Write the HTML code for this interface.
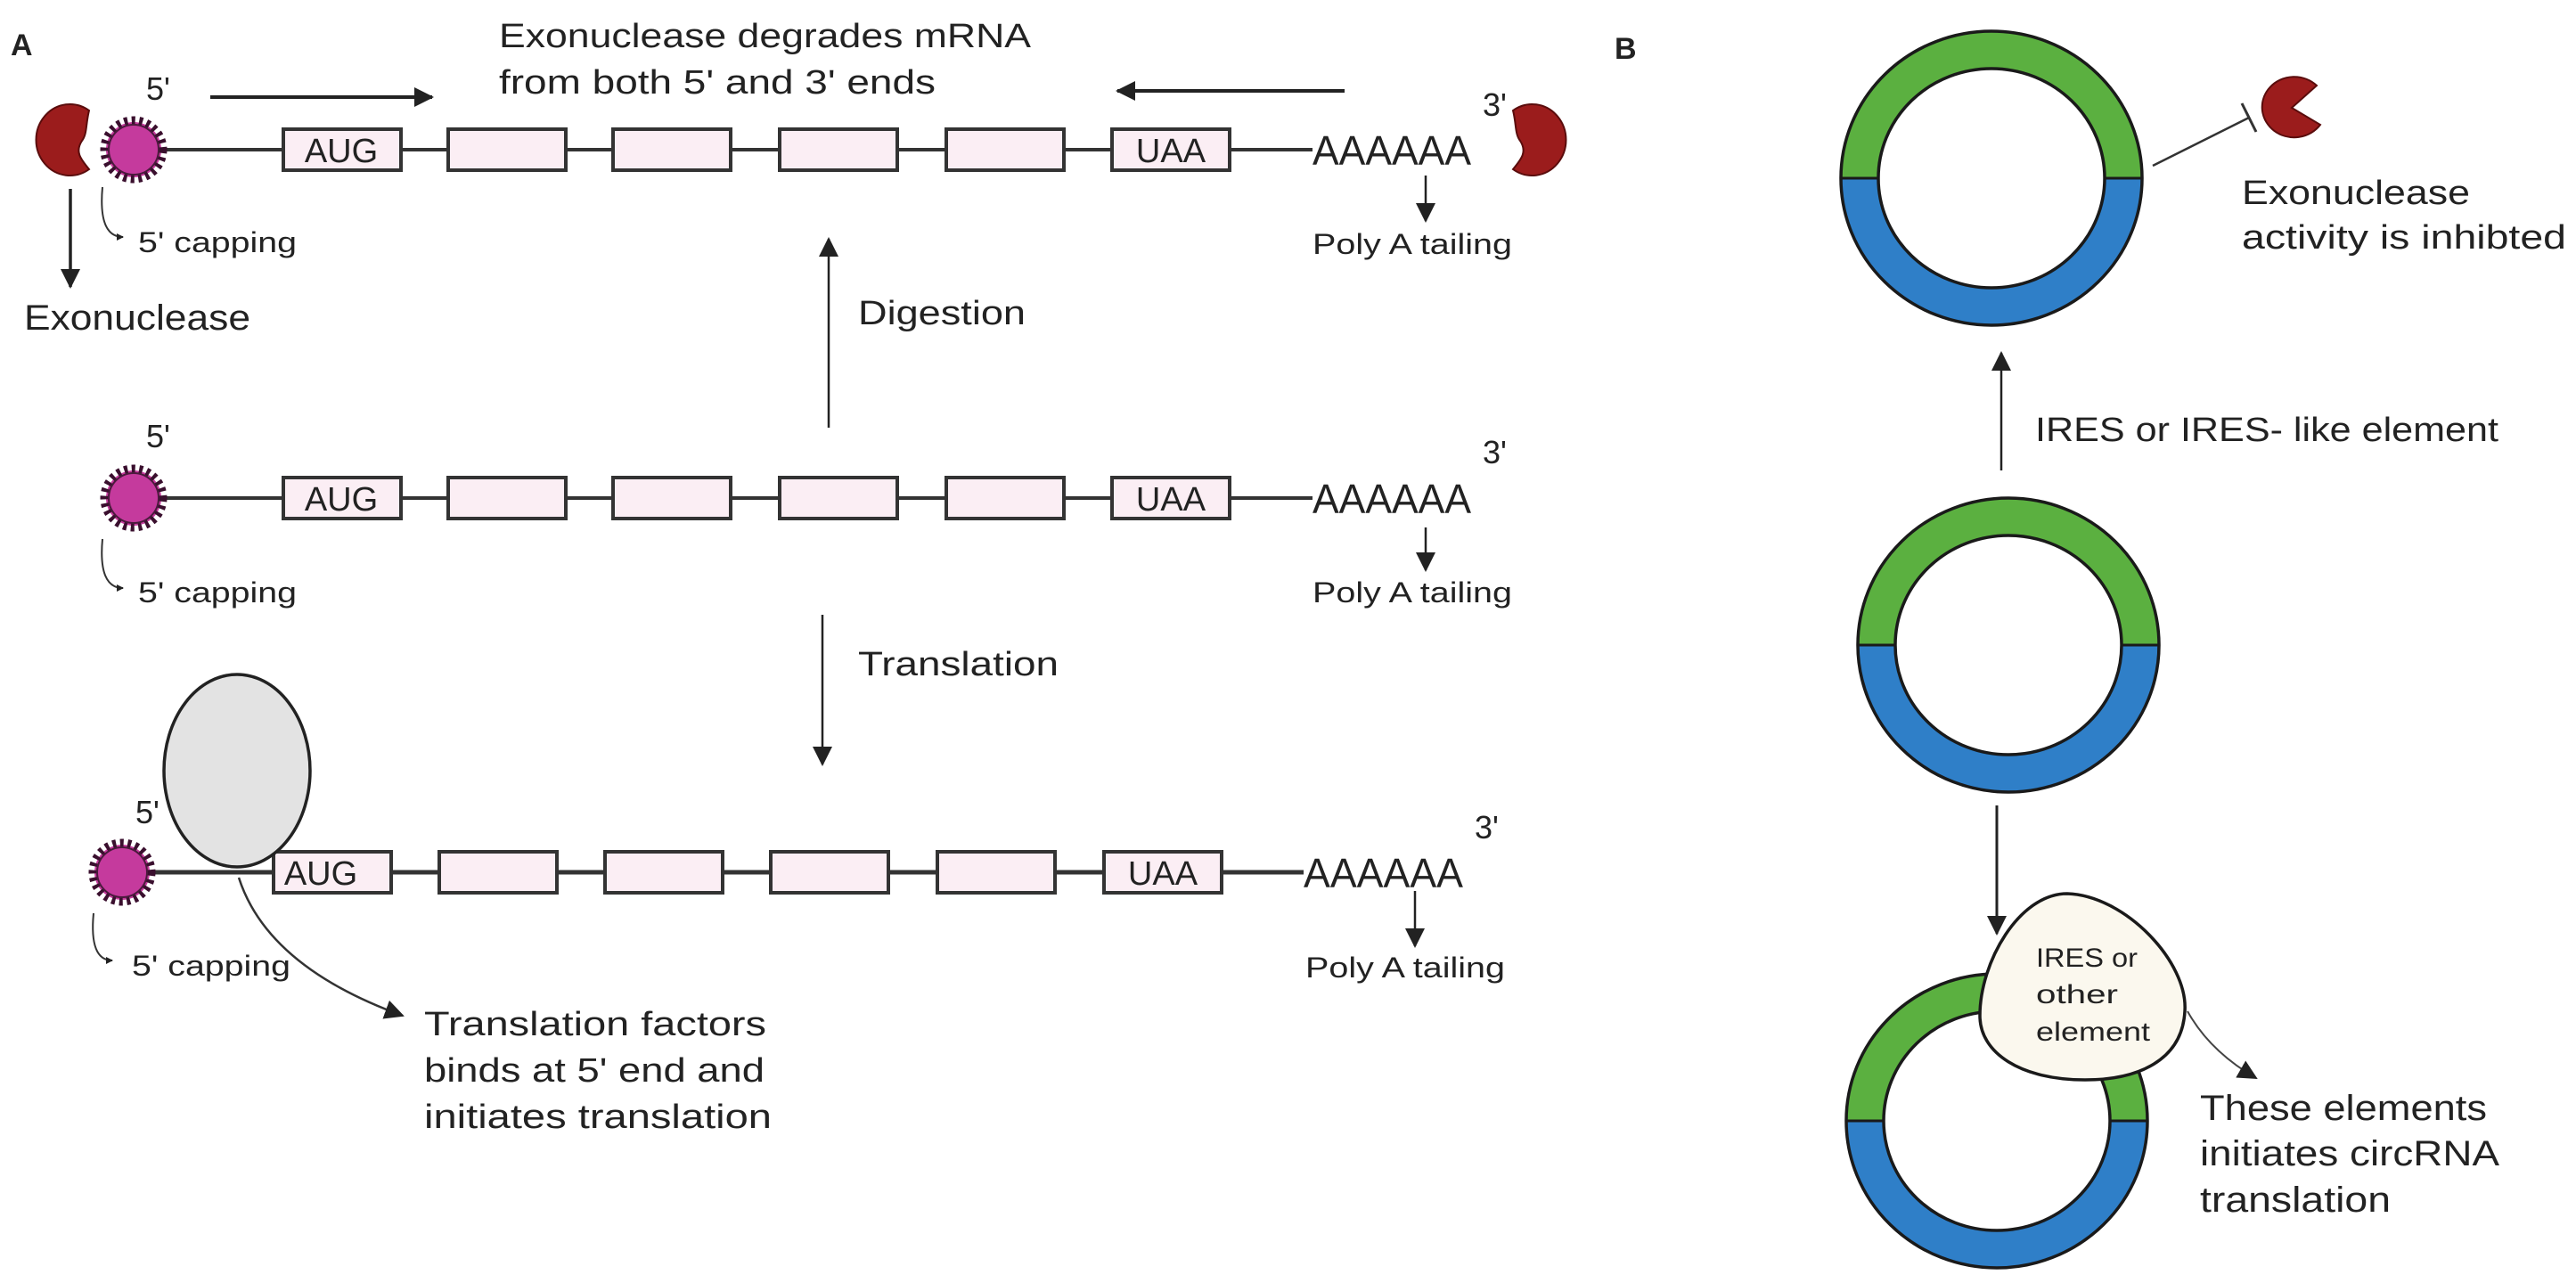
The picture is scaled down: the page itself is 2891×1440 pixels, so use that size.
<!DOCTYPE html>
<html><head><meta charset="utf-8"><style>html,body{margin:0;padding:0;background:#fff}svg{display:block}</style></head>
<body>
<svg width="2891" height="1440" viewBox="0 0 2891 1440" xmlns="http://www.w3.org/2000/svg" font-family="Liberation Sans, Arial, sans-serif" fill="#222">
<defs>
<marker id="ah" markerWidth="8" markerHeight="8" refX="7" refY="4" orient="auto" markerUnits="userSpaceOnUse" viewBox="0 0 8 8"><path d="M0,0 L8,4 L0,8 z" fill="#222"/></marker>
<marker id="ahb" markerWidth="22" markerHeight="22" refX="20" refY="11" orient="auto" markerUnits="userSpaceOnUse" viewBox="0 0 22 22"><path d="M0,0 L22,11 L0,22 z" fill="#222"/></marker>
<g id="box"><rect x="0" y="-23" width="132" height="46" fill="#fbeef4" stroke="#333" stroke-width="4"/></g>
<g id="star"><circle r="31" fill="#c53a9d"/><circle r="33" fill="none" stroke="#3a0f2e" stroke-width="9" stroke-dasharray="4 4.5"/><circle r="28" fill="none" stroke="#4a1a3c" stroke-width="2"/></g>
</defs>

<!-- Labels -->
<text x="12" y="62" font-size="34" font-weight="bold">A</text>
<text x="1812" y="66" font-size="34" font-weight="bold">B</text>

<!-- ===== Row 1 ===== -->
<text x="560" y="53" font-size="38" textLength="597" lengthAdjust="spacingAndGlyphs">Exonuclease degrades mRNA</text>
<text x="560" y="105" font-size="38" textLength="490" lengthAdjust="spacingAndGlyphs">from both 5' and 3' ends</text>
<line x1="236" y1="109" x2="485" y2="109" stroke="#222" stroke-width="4" marker-end="url(#ahb)"/>
<line x1="1509" y1="102" x2="1254" y2="102" stroke="#222" stroke-width="4" marker-end="url(#ahb)"/>
<text x="164" y="112" font-size="36">5'</text>
<text x="1664" y="130" font-size="36">3'</text>

<line x1="170" y1="168" x2="1473" y2="168" stroke="#333" stroke-width="4"/>
<use href="#box" x="318" y="168"/><use href="#box" x="503" y="168"/><use href="#box" x="688" y="168"/><use href="#box" x="875" y="168"/><use href="#box" x="1062" y="168"/><use href="#box" x="1248" y="168"/>
<text x="383" y="182" font-size="38" text-anchor="middle">AUG</text>
<text x="1314" y="182" font-size="38" text-anchor="middle">UAA</text>
<text x="1473" y="185" font-size="46" textLength="178" lengthAdjust="spacingAndGlyphs">AAAAAA</text>
<use href="#star" x="150" y="168"/>
<!-- exonucleases -->
<path d="M100,124 A38,40 0 1,0 100,190 C90,178 84,170 92,158 C98,150 96,140 100,124 z" fill="#9b1c1c" stroke="#5a0c0c" stroke-width="2"/>
<path d="M1698,124 A38,40 0 1,1 1698,190 C1708,178 1714,170 1706,158 C1700,150 1702,140 1698,124 z" fill="#9b1c1c" stroke="#5a0c0c" stroke-width="2"/>

<path d="M115,210 Q110,266 138,266" fill="none" stroke="#333" stroke-width="2" marker-end="url(#ah)"/>
<text x="155" y="283" font-size="32" textLength="178" lengthAdjust="spacingAndGlyphs">5' capping</text>
<line x1="79" y1="212" x2="79" y2="322" stroke="#222" stroke-width="3.5" marker-end="url(#ahb)"/>
<text x="27" y="370" font-size="40" textLength="254" lengthAdjust="spacingAndGlyphs">Exonuclease</text>
<line x1="1600" y1="197" x2="1600" y2="248" stroke="#222" stroke-width="2.5" marker-end="url(#ahb)"/>
<text x="1473" y="285" font-size="32" textLength="224" lengthAdjust="spacingAndGlyphs">Poly A tailing</text>

<line x1="930" y1="480" x2="930" y2="268" stroke="#222" stroke-width="2.5" marker-end="url(#ahb)"/>
<text x="963" y="364" font-size="38" textLength="188" lengthAdjust="spacingAndGlyphs">Digestion</text>

<!-- ===== Row 2 ===== -->
<text x="164" y="502" font-size="36">5'</text>
<text x="1664" y="520" font-size="36">3'</text>
<line x1="170" y1="559" x2="1473" y2="559" stroke="#333" stroke-width="4"/>
<use href="#box" x="318" y="559"/><use href="#box" x="503" y="559"/><use href="#box" x="688" y="559"/><use href="#box" x="875" y="559"/><use href="#box" x="1062" y="559"/><use href="#box" x="1248" y="559"/>
<text x="383" y="573" font-size="38" text-anchor="middle">AUG</text>
<text x="1314" y="573" font-size="38" text-anchor="middle">UAA</text>
<text x="1473" y="576" font-size="46" textLength="178" lengthAdjust="spacingAndGlyphs">AAAAAA</text>
<use href="#star" x="150" y="559"/>
<path d="M115,605 Q110,660 138,660" fill="none" stroke="#333" stroke-width="2" marker-end="url(#ah)"/>
<text x="155" y="676" font-size="32" textLength="178" lengthAdjust="spacingAndGlyphs">5' capping</text>
<line x1="1600" y1="592" x2="1600" y2="640" stroke="#222" stroke-width="2.5" marker-end="url(#ahb)"/>
<text x="1473" y="676" font-size="32" textLength="224" lengthAdjust="spacingAndGlyphs">Poly A tailing</text>

<line x1="923" y1="690" x2="923" y2="858" stroke="#222" stroke-width="2.5" marker-end="url(#ahb)"/>
<text x="963" y="758" font-size="38" textLength="225" lengthAdjust="spacingAndGlyphs">Translation</text>

<!-- ===== Row 3 ===== -->
<text x="152" y="924" font-size="36">5'</text>
<text x="1655" y="941" font-size="36">3'</text>
<line x1="160" y1="979" x2="1463" y2="979" stroke="#333" stroke-width="5"/>
<use href="#box" x="307" y="979"/><use href="#box" x="493" y="979"/><use href="#box" x="679" y="979"/><use href="#box" x="865" y="979"/><use href="#box" x="1052" y="979"/><use href="#box" x="1239" y="979"/>
<text x="360" y="993" font-size="38" text-anchor="middle">AUG</text>
<text x="1305" y="993" font-size="38" text-anchor="middle">UAA</text>
<text x="1463" y="996" font-size="46" textLength="179" lengthAdjust="spacingAndGlyphs">AAAAAA</text>
<ellipse cx="266" cy="865" rx="82" ry="108" fill="#e3e3e3" stroke="#222" stroke-width="3.5"/>
<use href="#star" x="137" y="979"/>
<path d="M105,1025 Q100,1078 126,1078" fill="none" stroke="#333" stroke-width="2" marker-end="url(#ah)"/>
<text x="148" y="1095" font-size="32" textLength="178" lengthAdjust="spacingAndGlyphs">5' capping</text>
<path d="M268,985 Q300,1085 452,1140" fill="none" stroke="#333" stroke-width="2.5" marker-end="url(#ahb)"/>
<text x="476" y="1162" font-size="38" textLength="384" lengthAdjust="spacingAndGlyphs">Translation factors</text>
<text x="476" y="1214" font-size="38" textLength="382" lengthAdjust="spacingAndGlyphs">binds at 5' end and</text>
<text x="476" y="1266" font-size="38" textLength="390" lengthAdjust="spacingAndGlyphs">initiates translation</text>
<line x1="1588" y1="1000" x2="1588" y2="1062" stroke="#222" stroke-width="2.5" marker-end="url(#ahb)"/>
<text x="1465" y="1097" font-size="32" textLength="224" lengthAdjust="spacingAndGlyphs">Poly A tailing</text>

<!-- ===== Panel B ===== -->
<!-- top ring -->
<g transform="translate(2235,200)">
<path d="M-148,0 A148,144 0 0,1 148,0" fill="none" stroke="#5bb040" stroke-width="42"/>
<path d="M-148,0 A148,144 0 0,0 148,0" fill="none" stroke="#2f7fc8" stroke-width="42"/>
<ellipse rx="169" ry="165" fill="none" stroke="#1a1a1a" stroke-width="3.5"/>
<ellipse rx="127" ry="123" fill="none" stroke="#1a1a1a" stroke-width="3.5"/>
<line x1="-169" y1="0" x2="-127" y2="0" stroke="#1a1a1a" stroke-width="3"/>
<line x1="127" y1="0" x2="169" y2="0" stroke="#1a1a1a" stroke-width="3"/>
</g>
<line x1="2416" y1="186" x2="2524" y2="132" stroke="#333" stroke-width="2.5"/>
<line x1="2516" y1="116" x2="2532" y2="148" stroke="#333" stroke-width="3"/>
<path d="M2600,96 A36,34 0 1,0 2604,140 L2572,121 z" fill="#9b1c1c" stroke="#5a0c0c" stroke-width="2"/>
<text x="2516" y="229" font-size="38" textLength="256" lengthAdjust="spacingAndGlyphs">Exonuclease</text>
<text x="2516" y="279" font-size="38" textLength="364" lengthAdjust="spacingAndGlyphs">activity is inhibted</text>

<line x1="2246" y1="528" x2="2246" y2="396" stroke="#222" stroke-width="2.5" marker-end="url(#ahb)"/>
<text x="2284" y="495" font-size="38" textLength="520" lengthAdjust="spacingAndGlyphs">IRES or IRES- like element</text>

<!-- middle ring -->
<g transform="translate(2254,724)">
<path d="M-148,0 A148,144 0 0,1 148,0" fill="none" stroke="#5bb040" stroke-width="42"/>
<path d="M-148,0 A148,144 0 0,0 148,0" fill="none" stroke="#2f7fc8" stroke-width="42"/>
<ellipse rx="169" ry="165" fill="none" stroke="#1a1a1a" stroke-width="3.5"/>
<ellipse rx="127" ry="123" fill="none" stroke="#1a1a1a" stroke-width="3.5"/>
<line x1="-169" y1="0" x2="-127" y2="0" stroke="#1a1a1a" stroke-width="3"/>
<line x1="127" y1="0" x2="169" y2="0" stroke="#1a1a1a" stroke-width="3"/>
</g>
<line x1="2241" y1="904" x2="2241" y2="1048" stroke="#222" stroke-width="3" marker-end="url(#ahb)"/>

<!-- bottom ring -->
<g transform="translate(2241,1258)">
<path d="M-148,0 A148,144 0 0,1 148,0" fill="none" stroke="#5bb040" stroke-width="42"/>
<path d="M-148,0 A148,144 0 0,0 148,0" fill="none" stroke="#2f7fc8" stroke-width="42"/>
<ellipse rx="169" ry="165" fill="none" stroke="#1a1a1a" stroke-width="3.5"/>
<ellipse rx="127" ry="123" fill="none" stroke="#1a1a1a" stroke-width="3.5"/>
<line x1="-169" y1="0" x2="-127" y2="0" stroke="#1a1a1a" stroke-width="3"/>
<line x1="127" y1="0" x2="169" y2="0" stroke="#1a1a1a" stroke-width="3"/>
</g>
<path d="M2320,1003 C2385,1005 2456,1080 2452,1135 C2449,1190 2400,1212 2340,1212 C2268,1212 2222,1182 2222,1140 C2222,1080 2266,1003 2320,1003 Z" fill="#fbf8ee" stroke="#1a1a1a" stroke-width="3.5"/>
<text x="2285" y="1085" font-size="30" textLength="114" lengthAdjust="spacingAndGlyphs">IRES or</text>
<text x="2285" y="1126" font-size="30" textLength="92" lengthAdjust="spacingAndGlyphs">other</text>
<text x="2285" y="1168" font-size="30" textLength="128" lengthAdjust="spacingAndGlyphs">element</text>
<path d="M2455,1135 Q2480,1180 2532,1210" fill="none" stroke="#444" stroke-width="2" marker-end="url(#ahb)"/>
<text x="2469" y="1257" font-size="40" textLength="322" lengthAdjust="spacingAndGlyphs">These elements</text>
<text x="2469" y="1308" font-size="40" textLength="336" lengthAdjust="spacingAndGlyphs">initiates circRNA</text>
<text x="2469" y="1360" font-size="40" textLength="214" lengthAdjust="spacingAndGlyphs">translation</text>
</svg>
</body></html>
